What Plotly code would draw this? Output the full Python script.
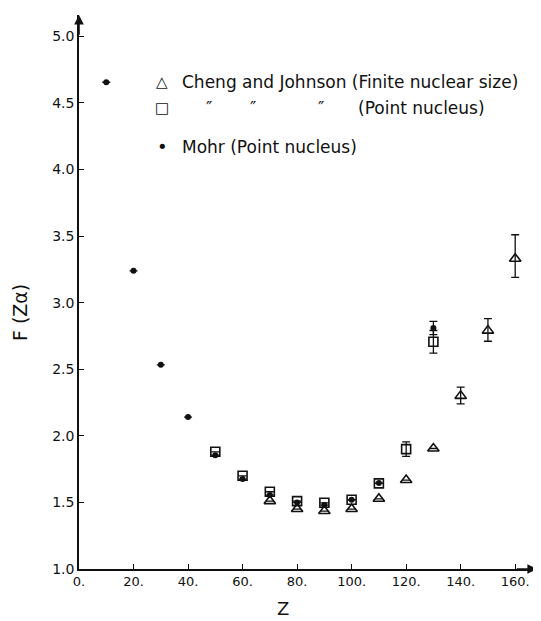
import plotly.graph_objects as go

# ---- data ----
z_finite = [70, 80, 90, 100, 110, 120, 130, 140, 150, 160]
f_finite = [1.51, 1.45, 1.435, 1.45, 1.527, 1.668, 1.905, 2.30, 2.79, 3.33]
err_finite_plus = [0, 0, 0, 0, 0, 0, 0, 0.065, 0.09, 0.18]
err_finite_minus = [0, 0, 0, 0, 0, 0, 0, 0.06, 0.08, 0.14]

z_point = [50, 60, 70, 80, 90, 100, 110, 120, 130]
f_point = [1.88, 1.70, 1.58, 1.51, 1.497, 1.52, 1.643, 1.90, 2.706]
err_point = [0, 0, 0, 0, 0, 0, 0, 0.055, 0.085]

z_mohr = [10, 20, 30, 40, 50, 60, 70, 80, 90, 100, 110, 130]
f_mohr = [4.655, 3.239, 2.533, 2.141, 1.855, 1.675, 1.555, 1.50, 1.48, 1.52, 1.645, 2.81]
err_mohr = [0, 0, 0, 0, 0, 0, 0, 0, 0, 0, 0, 0.05]

x_ticks = [0, 20, 40, 60, 80, 100, 120, 140, 160]
x_tick_labels = ["0.", "20.", "40.", "60.", "80.", "100.", "120.", "140.", "160."]
y_ticks = [1.0, 1.5, 2.0, 2.5, 3.0, 3.5, 4.0, 4.5, 5.0]
y_tick_labels = ["1.0", "1.5", "2.0", "2.5", "3.0", "3.5", "4.0", "4.5", "5.0"]

legend_symbols = ["\u25b3", "\u25a1", "\u2022"]
legend_texts = ["Cheng and Johnson (Finite nuclear size)", "(Point nucleus)", "Mohr (Point nucleus)"]
ditto = "\u2033"

FONT = "DejaVu Sans"
INK = "#111111"

fig = go.Figure()

fig.add_trace(go.Scatter(
    x=z_finite, y=f_finite, mode="markers",
    marker=dict(symbol="triangle-up-open", size=10, color=INK, line=dict(width=1.6)),
    error_y=dict(type="data", symmetric=False, array=err_finite_plus,
                 arrayminus=err_finite_minus, color=INK, thickness=1.3, width=4),
    showlegend=False,
))
fig.add_trace(go.Scatter(
    x=z_point, y=f_point, mode="markers",
    marker=dict(symbol="square-open", size=9, color=INK, line=dict(width=1.6)),
    error_y=dict(type="data", array=err_point, color=INK, thickness=1.3, width=4),
    showlegend=False,
))
fig.add_trace(go.Scatter(
    x=z_mohr, y=f_mohr, mode="markers",
    marker=dict(symbol="circle", size=6, color=INK),
    error_y=dict(type="data", array=err_mohr, color=INK, thickness=1.3, width=4),
    showlegend=False,
))

# legend drawn as text
leg_y = [4.655, 4.46, 4.17]
leg_text_x = [37, 101.5, 37]
leg_sym_size = [15, 15, 18]
for sym, txt, yy, tx, ss in zip(legend_symbols, legend_texts, leg_y, leg_text_x, leg_sym_size):
    fig.add_annotation(x=30.5, y=yy, xref="x", yref="y", text=sym, showarrow=False,
                       font=dict(family=FONT, size=ss, color=INK),
                       xanchor="center", yanchor="middle")
    fig.add_annotation(x=tx, y=yy, xref="x", yref="y", text=txt, showarrow=False,
                       font=dict(family=FONT, size=17, color=INK),
                       xanchor="left", yanchor="middle")
for qx in [47.6, 63.7, 88.6]:
    fig.add_annotation(x=qx, y=leg_y[1], xref="x", yref="y", text=ditto, showarrow=False,
                       font=dict(family=FONT, size=17, color=INK),
                       xanchor="center", yanchor="middle")

# axis arrows
fig.add_annotation(x=168, y=1.0, ax=160, ay=1.0, xref="x", yref="y", axref="x", ayref="y",
                   text="", showarrow=True, arrowhead=2, arrowsize=1.2, arrowwidth=1.6,
                   arrowcolor=INK)
fig.add_annotation(x=0, y=5.16, ax=0, ay=5.0, xref="x", yref="y", axref="x", ayref="y",
                   text="", showarrow=True, arrowhead=2, arrowsize=1.2, arrowwidth=1.6,
                   arrowcolor=INK)

# axis titles
fig.add_annotation(x=75, y=0, xref="x", yref="paper", yshift=-39, text="Z", showarrow=False,
                   font=dict(family=FONT, size=18, color=INK), yanchor="middle")
fig.add_annotation(x=0, y=0.462, xref="paper", yref="paper", xshift=-59, text="F (Z\u03b1)",
                   textangle=-90, showarrow=False,
                   font=dict(family=FONT, size=19, color=INK),
                   xanchor="center", yanchor="middle")

fig.update_xaxes(range=[0, 168], tickvals=x_ticks, ticktext=x_tick_labels,
                 ticks="inside", ticklen=5, tickwidth=1.2, tickcolor=INK,
                 showline=True, linecolor=INK, linewidth=1.6, showgrid=False,
                 zeroline=False, tickfont=dict(family=FONT, size=13, color=INK))
fig.update_yaxes(range=[1.0, 5.16], tickvals=y_ticks, ticktext=y_tick_labels,
                 ticks="inside", ticklen=5, tickwidth=1.2, tickcolor=INK,
                 showline=True, linecolor=INK, linewidth=1.6, showgrid=False,
                 zeroline=False, tickfont=dict(family=FONT, size=14, color=INK))

# page body has an 8px margin, so the figure is sized to fit inside the window
fig.update_layout(width=533, height=613, margin=dict(l=71, r=4, t=7, b=52, autoexpand=False),
                  plot_bgcolor="white", paper_bgcolor="white", showlegend=False)

fig.write_html("out.html")
